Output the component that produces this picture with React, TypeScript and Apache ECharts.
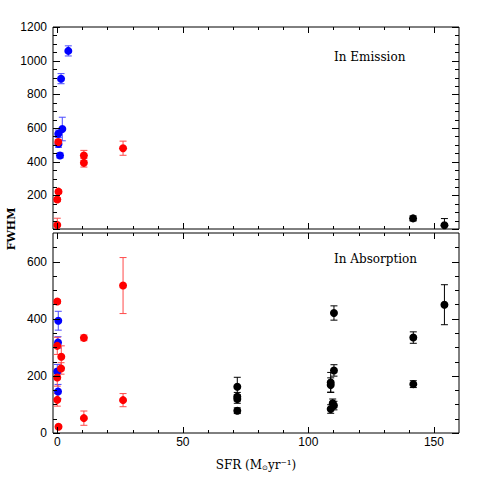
import React, { useEffect, useRef } from "react";
import * as echarts from "echarts";

// Axis ranges and tick values
const X_MIN = -1.7;
const X_MAX = 160;
const X_MAJOR = [0, 50, 100, 150];
const X_MINOR = [10, 20, 30, 40, 60, 70, 80, 90, 110, 120, 130, 140];
const YT_MAX = 1200;
const YT_MAJOR = [0, 200, 400, 600, 800, 1000, 1200];
const YT_LABELS = [200, 400, 600, 800, 1000, 1200];
const YT_MINOR = [50, 100, 150, 250, 300, 350, 450, 500, 550, 650, 700, 750, 850, 900, 950, 1050, 1100, 1150];
const YB_MAX = 700;
const YB_MAJOR = [0, 200, 400, 600];
const YB_LABELS = [0, 200, 400, 600];
const YB_MINOR = [50, 100, 150, 250, 300, 350, 450, 500, 550, 650];

// Data: [SFR, FWHM, error]
const emBlue = [[4.4, 1058, 30], [1.5, 893, 30], [2.0, 594, 70], [0.4, 566, 22], [0.5, 505, 20], [1.1, 437, 15]];
const emRed = [[0.4, 517, 15], [0.5, 222, 10], [0, 175, 10], [0, 24, 40], [10.6, 437, 30], [10.6, 393, 25], [26.2, 480, 42]];
const emBlack = [[141.7, 63, 15], [154.2, 22, 40]];
const abBlue = [[0.4, 393, 33], [0.3, 317, 20], [0, 215, 25], [0.3, 145, 25]];
const abRed = [[0, 460, 6], [10.6, 333, 10], [26.2, 516, 98], [26.2, 115, 23], [10.6, 52, 25], [0.5, 22, 5], [0, 305, 30], [1.6, 267, 38], [1.5, 226, 20], [0, 194, 30], [0, 116, 22]];
const abBlack = [[71.7, 162, 33], [71.7, 127, 15], [71.7, 119, 15], [71.7, 78, 10], [110.2, 420, 25], [110.2, 219, 20], [108.9, 177, 35], [108.9, 168, 25], [109.7, 104, 15], [110.2, 96, 15], [108.9, 84, 15], [141.8, 334, 20], [141.8, 171, 12], [154.2, 449, 70]];

const BLUE = "#0000ff";
const RED = "#ff0000";
const BLACK = "#000000";
const BLUE_ERR = "#4a4aff";
const RED_ERR = "#ff4a4a";

const LABEL_FONT = "Liberation Sans";
const TEXT_FONT = "DejaVu Serif";

const fmt = (v: number) => String(v);

function xAxisFor(g: number, showLabels: boolean) {
  return {
    type: "value",
    gridIndex: g,
    min: X_MIN,
    max: X_MAX,
    position: "bottom",
    axisLine: { show: false, onZero: false },
    axisTick: { show: false },
    axisLabel: {
      show: showLabels,
      customValues: X_MAJOR,
      formatter: fmt,
      color: BLACK,
      fontFamily: LABEL_FONT,
      fontSize: 12,
      margin: 3,
    },
    splitLine: { show: false },
  };
}

function yAxisFor(g: number, max: number, labels: number[]) {
  return {
    type: "value",
    gridIndex: g,
    min: 0,
    max,
    position: "left",
    axisLine: { show: false, onZero: false },
    axisTick: { show: false },
    axisLabel: {
      show: true,
      customValues: labels,
      formatter: fmt,
      color: BLACK,
      fontFamily: LABEL_FONT,
      fontSize: 12,
      margin: 6,
    },
    splitLine: { show: false },
  };
}

// Tick marks drawn through the axis scales: [x, y, isY, isMajor]
function tickSeries(g: number, yMajor: number[], yMinor: number[]) {
  const data: number[][] = [];
  X_MAJOR.forEach((v) => data.push([v, 0, 0, 1]));
  X_MINOR.forEach((v) => data.push([v, 0, 0, 0]));
  yMajor.forEach((v) => data.push([X_MIN, v, 1, 1]));
  yMinor.forEach((v) => data.push([X_MIN, v, 1, 0]));
  return {
    type: "custom",
    xAxisIndex: g,
    yAxisIndex: g,
    clip: false,
    silent: true,
    z: 10,
    encode: { x: 0, y: 1 },
    data,
    renderItem: (params: any, api: any) => {
      const cs = params.coordSys;
      const isY = api.value(2) === 1;
      const major = api.value(3) === 1;
      const p = api.coord([api.value(0), api.value(1)]);
      const style = { stroke: BLACK, lineWidth: 1 };
      if (!isY) {
        const len = major ? 6 : 3;
        const x = Math.round(p[0]) + 0.5;
        const yb = cs.y + cs.height;
        const yt = cs.y;
        return {
          type: "group",
          children: [
            { type: "line", shape: { x1: x, y1: yb, x2: x, y2: yb - len }, style },
            { type: "line", shape: { x1: x, y1: yt, x2: x, y2: yt + len }, style },
          ],
        };
      }
      const len = major ? 7 : 4;
      const y = Math.round(p[1]) + 0.5;
      const xl = cs.x;
      const xr = cs.x + cs.width;
      return {
        type: "group",
        children: [
          { type: "line", shape: { x1: xl, y1: y, x2: xl + len, y2: y }, style },
          { type: "line", shape: { x1: xr, y1: y, x2: xr - len, y2: y }, style },
        ],
      };
    },
  };
}

function errorSeries(data: number[][], color: string, gi: number) {
  return {
    type: "custom",
    xAxisIndex: gi,
    yAxisIndex: gi,
    clip: true,
    silent: true,
    encode: { x: 0, y: 1 },
    data,
    renderItem: (params: any, api: any) => {
      const x = api.value(0);
      const y = api.value(1);
      const e = api.value(2);
      const p1 = api.coord([x, y + e]);
      const p2 = api.coord([x, y - e]);
      const hw = 3.5;
      const style = { stroke: color, lineWidth: 1 };
      return {
        type: "group",
        children: [
          { type: "line", shape: { x1: p1[0], y1: p1[1], x2: p2[0], y2: p2[1] }, style },
          { type: "line", shape: { x1: p1[0] - hw, y1: p1[1], x2: p1[0] + hw, y2: p1[1] }, style },
          { type: "line", shape: { x1: p2[0] - hw, y1: p2[1], x2: p2[0] + hw, y2: p2[1] }, style },
        ],
      };
    },
  };
}

function pointSeries(data: number[][], color: string, gi: number) {
  return {
    type: "scatter",
    xAxisIndex: gi,
    yAxisIndex: gi,
    symbol: "circle",
    symbolSize: 8,
    data: data.map((d) => [d[0], d[1]]),
    itemStyle: { color, opacity: 1 },
  };
}

export default function App() {
  const ref = useRef<HTMLDivElement>(null);
  useEffect(() => {
    if (!ref.current) return;
    const chart = echarts.init(ref.current, undefined, { renderer: "svg" });
    const series: any[] = [];
    const groups: [number[][], string, string, number][] = [
      [emBlue, BLUE, BLUE_ERR, 0],
      [emRed, RED, RED_ERR, 0],
      [emBlack, BLACK, BLACK, 0],
      [abBlue, BLUE, BLUE_ERR, 1],
      [abRed, RED, RED_ERR, 1],
      [abBlack, BLACK, BLACK, 1],
    ];
    series.push(tickSeries(0, YT_MAJOR, YT_MINOR));
    series.push(tickSeries(1, YB_MAJOR, YB_MINOR));
    groups.forEach(([d, c, ec, g]) => {
      series.push(errorSeries(d, ec, g));
    });
    groups.forEach(([d, c, ec, g]) => {
      series.push(pointSeries(d, c, g));
    });
    chart.setOption({
      animation: false,
      backgroundColor: "#ffffff",
      grid: [
        { left: 53, top: 27, width: 406, height: 202, show: true, borderColor: BLACK, borderWidth: 1, backgroundColor: "transparent" },
        { left: 53, top: 233, width: 406, height: 200, show: true, borderColor: BLACK, borderWidth: 1, backgroundColor: "transparent" },
      ],
      xAxis: [xAxisFor(0, false), xAxisFor(1, true)],
      yAxis: [yAxisFor(0, YT_MAX, YT_LABELS), yAxisFor(1, YB_MAX, YB_LABELS)],
      series,
      graphic: [
        {
          type: "text",
          x: 334,
          y: 57,
          style: { text: "In Emission", fontFamily: TEXT_FONT, fontSize: 12, fill: BLACK, verticalAlign: "middle", align: "left" },
        },
        {
          type: "text",
          x: 334,
          y: 259,
          style: { text: "In Absorption", fontFamily: TEXT_FONT, fontSize: 12, fill: BLACK, verticalAlign: "middle", align: "left" },
        },
        {
          type: "text",
          x: 11,
          y: 229,
          rotation: Math.PI / 2,
          style: { text: "FWHM", fontFamily: TEXT_FONT, fontSize: 11, fontWeight: "bold", fill: BLACK, verticalAlign: "middle", align: "center" },
        },
        {
          type: "text",
          x: 256,
          y: 465,
          style: {
            text: "{a|SFR (M}{s|⊙}{a|yr⁻¹)}",
            fill: BLACK,
            align: "center",
            verticalAlign: "middle",
            rich: {
              a: { fontFamily: TEXT_FONT, fontSize: 12, fill: BLACK, lineHeight: 16, verticalAlign: "middle" },
              s: { fontFamily: "DejaVu Sans", fontSize: 7, fill: BLACK, lineHeight: 16, verticalAlign: "bottom", padding: [0, 0, 2, 0] },
            },
          },
        },
      ],
    });
    return () => chart.dispose();
  }, []);
  return <div ref={ref} style={{ position: "fixed", left: 0, top: 0, width: 485, height: 485 }} />;
}
